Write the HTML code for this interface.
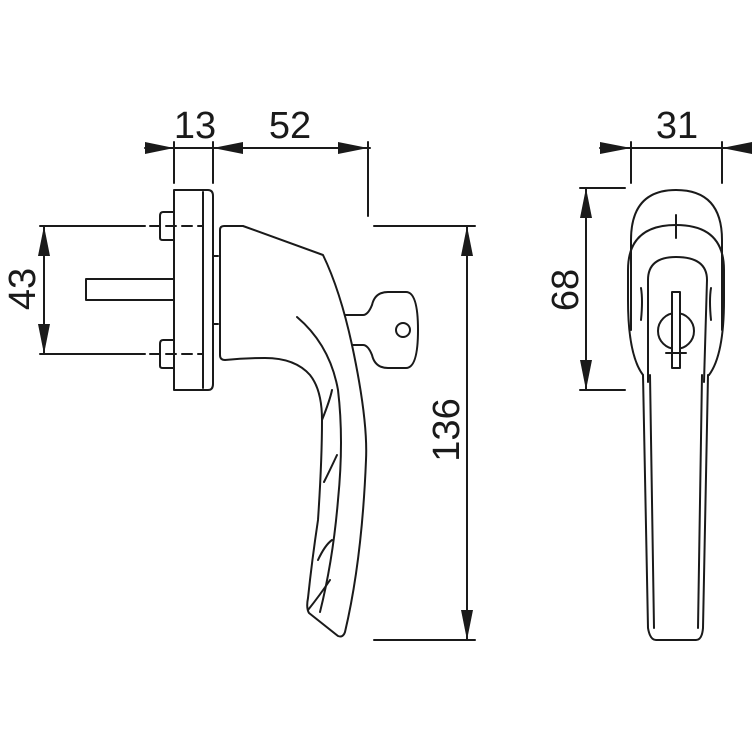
<!DOCTYPE html>
<html><head><meta charset="utf-8"><style>html,body{margin:0;padding:0;background:#fff}svg{display:block}</style></head>
<body>
<svg width="752" height="752" viewBox="0 0 752 752" xmlns="http://www.w3.org/2000/svg">
<g fill="none" stroke="#1a1a1a" stroke-width="2" stroke-linejoin="round" stroke-linecap="round">
<!-- dims top left -->
<line x1="145" y1="148" x2="370" y2="148"/>
<line x1="174" y1="142" x2="174" y2="183"/>
<line x1="213" y1="142" x2="213" y2="183"/>
<line x1="368" y1="142" x2="368" y2="216"/>
<!-- 43 -->
<line x1="40" y1="226" x2="145" y2="226"/>
<line x1="40" y1="354" x2="145" y2="354"/>
<line x1="44" y1="226" x2="44" y2="354"/>
<line x1="150" y1="226" x2="203" y2="226" stroke-dasharray="10,6"/>
<line x1="150" y1="354" x2="203" y2="354" stroke-dasharray="10,6"/>
<!-- plate -->
<path d="M174 190 L208 190 Q213 190 213 196 L213 384 Q213 390 208 390 L174 390 Z"/>
<line x1="203" y1="192" x2="203" y2="388"/>
<path d="M174 212 L163 212 Q160 212 160 216 L160 238 Q160 240 163 240 L174 240"/>
<path d="M174 340 L163 340 Q160 340 160 344 L160 366 Q160 368 163 368 L174 368"/>
<rect x="86" y="279" width="88" height="21"/>
<path d="M213 256 L218 256 M213 324 L218 324"/>
<!-- handle side -->
<path d="M220 230 Q220 226 224 226 L243 226 L323 255 Q340 290 352 345 Q368 420 366 460 Q362 560 345 632 Q343 638 338 636 L309 613 Q306 608 308 598 Q312 560 318 520 Q322 460 322 420 Q322 390 310 375 Q295 358 265 358 Q245 358 225 360 Q220 360 220 355 Z"/>
<path d="M297 317 Q330 345 338 390 Q344 440 338 500 Q333 560 320 612"/>
<path d="M332 390 Q330 400 322 420 M337 455 Q330 470 324 482 M332 540 Q325 545 318 560 M330 580 Q320 595 308 610"/>
<!-- key -->
<path d="M345 315 L363 315 Q368 315 372 305 Q375 292 388 292 L406 292 Q418 292 418 330 Q418 368 406 368 L388 368 Q375 368 372 355 Q368 345 363 345 L352 345"/>
<circle cx="403" cy="330" r="7"/>
<!-- 136 -->
<line x1="374" y1="226" x2="475" y2="226"/>
<line x1="374" y1="640" x2="475" y2="640"/>
<line x1="467" y1="226" x2="467" y2="640"/>
<!-- right view dims -->
<line x1="600" y1="148" x2="752" y2="148"/>
<line x1="631" y1="142" x2="631" y2="183"/>
<line x1="722" y1="142" x2="722" y2="183"/>
<line x1="580" y1="188" x2="625" y2="188"/>
<line x1="580" y1="390" x2="625" y2="390"/>
<line x1="586" y1="188" x2="586" y2="390"/>
<!-- right handle -->
<path d="M631 240 Q631 190 676 190 Q722 190 722 240 L722 330"/>
<path d="M631 240 L631 330"/>
<path d="M643 375 Q628 355 628 300 L628 270 Q628 225 676 225 Q724 225 724 270 L724 300 Q724 355 709 375"/>
<path d="M643 375 L648 628 Q650 640 656 640 L696 640 Q702 640 703 628 L708 375"/>
<path d="M650 375 L654 628 M702 375 L698 628"/>
<path d="M648 382 L648 280 Q648 257 676 257 Q707 257 707 280 L704 382"/>
<path d="M641 320 Q643 300 641 288 M711 320 Q709 300 711 288"/>
<circle cx="676" cy="331" r="18"/>
<rect x="672" y="292" width="8" height="76" fill="#fff"/>
<line x1="666" y1="353" x2="686" y2="353"/>
<line x1="676" y1="215" x2="676" y2="238"/>
</g>
<g fill="#1a1a1a" stroke="none">
<polygon points="145,142 174,148 145,154"/>
<polygon points="243,142 213,148 243,154"/>
<polygon points="338,142 368,148 338,154"/>
<polygon points="38,256 44,226 50,256"/>
<polygon points="38,324 44,354 50,324"/>
<polygon points="461,256 467,226 473,256"/>
<polygon points="461,610 467,640 473,610"/>
<polygon points="600,142 631,148 600,154"/>
<polygon points="752,142 722,148 752,154"/>
<polygon points="580,218 586,188 592,218"/>
<polygon points="580,360 586,390 592,360"/>
</g>
<g font-family="Liberation Sans, sans-serif" font-size="38" fill="#1a1a1a" text-anchor="middle">
<text x="195" y="138">13</text>
<text x="290" y="138">52</text>
<text x="677" y="138">31</text>
<text transform="translate(35,289) rotate(-90)">43</text>
<text transform="translate(459,430) rotate(-90)">136</text>
<text transform="translate(578,290) rotate(-90)">68</text>
</g>
</svg>
</body></html>
